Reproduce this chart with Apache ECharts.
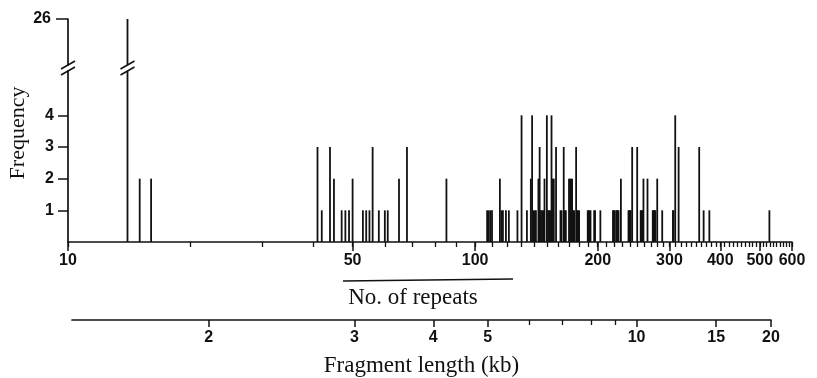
<!DOCTYPE html>
<html>
<head>
<meta charset="utf-8">
<script src="https://cdn.jsdelivr.net/npm/echarts@6/dist/echarts.min.js"></script>
<style>
  html, body { margin: 0; padding: 0; background: #fff; }
  #chart { width: 817px; height: 378px; }
</style>
</head>
<body>
<div id="chart"></div>
<script>
// number of repeats and how many fragments had that count
const repeats = [
  14, 15, 16,
  41, 42, 44, 45, 47, 48, 49, 50, 53, 54, 55, 56, 58, 60, 61, 65, 68, 85,
  107, 108, 109, 110, 115, 116, 117, 119, 121, 127, 130, 134, 137, 138, 139, 140, 141,
  143, 144, 145, 146, 147, 148, 150, 151, 152, 153, 154, 155, 156, 158, 162, 163,
  165, 166, 167, 170, 171, 172, 173, 174, 175, 177, 178, 179, 180,
  189, 190, 191, 192, 196, 197, 203, 218, 219, 220, 222, 223, 224, 225, 228,
  238, 239, 240, 241, 243, 250, 255, 256, 257, 259, 265, 273, 274, 275, 276, 277,
  280, 288, 306, 307, 310, 316, 355, 364, 376, 528
]
const frequency = [
  26, 2, 2,
  3, 1, 3, 2, 1, 1, 1, 2, 1, 1, 1, 3, 1, 1, 1, 2, 3, 2,
  1, 1, 1, 1, 2, 1, 1, 1, 1, 1, 4, 1, 2, 4, 1, 1, 1,
  2, 3, 1, 1, 1, 2, 4, 1, 1, 1, 4, 2, 2, 3, 1, 1,
  3, 1, 1, 2, 2, 2, 2, 1, 1, 3, 1, 1, 1,
  1, 1, 1, 1, 1, 1, 1, 1, 1, 1, 1, 1, 1, 1, 2,
  1, 1, 1, 1, 3, 3, 1, 1, 1, 2, 2, 1, 1, 1, 1, 1,
  2, 1, 1, 1, 4, 3, 3, 1, 1, 1
]

// tick labels
const repeatLabels = [10, 50, 100, 200, 300, 400, 500, 600]
const freqLabels = [1, 2, 3, 4]
const freqTopLabels = [26]
const kbLabels = [2, 3, 4, 5, 10, 15, 20]
const kbMinor = [6, 7, 8, 9]

const repeatMinor = []
for (let v = 10; v <= 600; v += 10) repeatMinor.push(v)

// fragment length (kb) = FLANK_KB + repeats * REPEAT_KB
const REPEAT_KB = 0.0353
const FLANK_KB = 1.22
const KB_MIN = 1.58
const KB_MAX = 20
const toRepeats = (kb) => (kb - FLANK_KB) / REPEAT_KB
const toKb = (n) => FLANK_KB + n * REPEAT_KB

// broken y axis
const LOWER_MAX = 5.4
const UPPER_MIN = 24.5
const UPPER_MAX = 26

const INK = '#111'
const SANS = '"Liberation Sans", Arial, sans-serif'
const SERIF = '"Liberation Serif", "Times New Roman", serif'

const points = repeats.map((r, i) => [r, frequency[i]])
const tallPoints = points.filter((p) => p[1] > LOWER_MAX)
const breakXs = [10].concat(tallPoints.map((p) => p[0]))

function stick(params, api) {
  const x = api.value(0)
  const p0 = api.coord([x, 0])
  const p1 = api.coord([x, api.value(1)])
  return {
    type: 'line',
    shape: { x1: p0[0], y1: p0[1], x2: p1[0], y2: p1[1] },
    style: { stroke: INK, lineWidth: 1.8 },
  }
}

function slashAt(yValue) {
  return function (params, api) {
    const p = api.coord([api.value(0), yValue])
    return {
      type: 'line',
      shape: { x1: p[0] - 7, y1: p[1] + 4, x2: p[0] + 7, y2: p[1] - 4 },
      style: { stroke: INK, lineWidth: 1.6 },
    }
  }
}

const tickLabelStyle = {
  color: INK,
  fontFamily: SANS,
  fontWeight: 'bold',
  fontSize: 16,
}
const lineStyle = { color: INK, width: 1.7 }
// pad the kb extent a hair so the 20 kb tick survives rounding
const kbAxisMin = toRepeats(KB_MIN)
const kbAxisMax = toRepeats(KB_MAX) * 1.0005

const option = {
  animation: false,
  backgroundColor: '#fff',
  grid: [
    { left: 68, right: 25, top: 19, height: 46 },
    { left: 68, right: 25, top: 71, height: 171 },
    { left: 72, right: 46, top: 290, height: 30 },
  ],
  xAxis: [
    { gridIndex: 0, type: 'log', min: 10, max: 600, show: false },
    {
      gridIndex: 1, type: 'log', min: 10, max: 600, position: 'bottom',
      axisLine: { onZero: false, lineStyle },
      axisTick: { customValues: repeatMinor, length: 5, lineStyle: { color: INK, width: 1.3 } },
      axisLabel: { show: false },
      splitLine: { show: false },
    },
    {
      gridIndex: 1, type: 'log', min: 10, max: 600, position: 'bottom', offset: 0,
      axisLine: { show: false },
      axisTick: { customValues: repeatLabels, length: 9, lineStyle: { color: INK, width: 1.5 } },
      axisLabel: { customValues: repeatLabels, margin: 11, ...tickLabelStyle,
        formatter: (v) => String(Math.round(v)) },
      splitLine: { show: false },
    },
    {
      gridIndex: 2, type: 'log', min: kbAxisMin, max: kbAxisMax, position: 'bottom',
      axisLine: { onZero: false, lineStyle },
      axisTick: { customValues: kbMinor.map(toRepeats), length: 5, lineStyle: { color: INK, width: 1.3 } },
      axisLabel: { show: false },
      splitLine: { show: false },
    },
    {
      gridIndex: 2, type: 'log', min: kbAxisMin, max: kbAxisMax, position: 'bottom', offset: 0,
      axisLine: { show: false },
      axisTick: { customValues: kbLabels.map(toRepeats), length: 7, lineStyle: { color: INK, width: 1.5 } },
      axisLabel: { customValues: kbLabels.map(toRepeats), margin: 10, ...tickLabelStyle,
        formatter: (v) => String(Math.round(toKb(v))) },
      splitLine: { show: false },
      name: 'Fragment length (kb)',
      nameLocation: 'middle',
      nameGap: 34,
      nameTextStyle: { color: INK, fontFamily: SERIF, fontSize: 23 },
    },
  ],
  yAxis: [
    {
      gridIndex: 0, type: 'value', min: UPPER_MIN, max: UPPER_MAX,
      axisLine: { show: true, onZero: false, lineStyle },
      axisTick: { show: true, customValues: freqTopLabels, length: 12, lineStyle: { color: INK, width: 1.5 } },
      axisLabel: { customValues: freqTopLabels, margin: 17, ...tickLabelStyle },
      splitLine: { show: false },
    },
    {
      gridIndex: 1, type: 'value', min: 0, max: LOWER_MAX,
      axisLine: { show: true, onZero: false, lineStyle },
      axisTick: { show: true, customValues: freqLabels, length: 10, lineStyle: { color: INK, width: 1.5 } },
      axisLabel: { customValues: freqLabels, margin: 14, ...tickLabelStyle },
      splitLine: { show: false },
    },
    { gridIndex: 2, type: 'value', show: false },
  ],
  series: [
    {
      name: 'Frequency (upper)', type: 'custom', xAxisIndex: 0, yAxisIndex: 0,
      clip: true, renderItem: stick, data: tallPoints,
    },
    {
      name: 'Frequency', type: 'custom', xAxisIndex: 1, yAxisIndex: 1,
      clip: true, renderItem: stick, data: points,
    },
    {
      name: 'break upper', type: 'custom', xAxisIndex: 0, yAxisIndex: 0,
      renderItem: slashAt(UPPER_MIN), data: breakXs.map((x) => [x, UPPER_MIN]),
    },
    {
      name: 'break lower', type: 'custom', xAxisIndex: 1, yAxisIndex: 1,
      renderItem: slashAt(LOWER_MAX), data: breakXs.map((x) => [x, LOWER_MAX]),
    },
  ],
  graphic: [
    {
      type: 'text', x: 18, y: 133, rotation: Math.PI / 2,
      style: { text: 'Frequency', fill: INK, font: '22px ' + SERIF, align: 'center', verticalAlign: 'middle' },
    },
    {
      type: 'line', shape: { x1: 343, y1: 281, x2: 513, y2: 279 },
      style: { stroke: INK, lineWidth: 1.3 },
    },
    {
      type: 'text', x: 413, y: 298,
      style: { text: 'No. of repeats', fill: INK, font: '23px ' + SERIF, align: 'center', verticalAlign: 'middle' },
    },
  ],
}

const chart = echarts.init(document.getElementById('chart'))
chart.setOption(option)
</script>
</body>
</html>
